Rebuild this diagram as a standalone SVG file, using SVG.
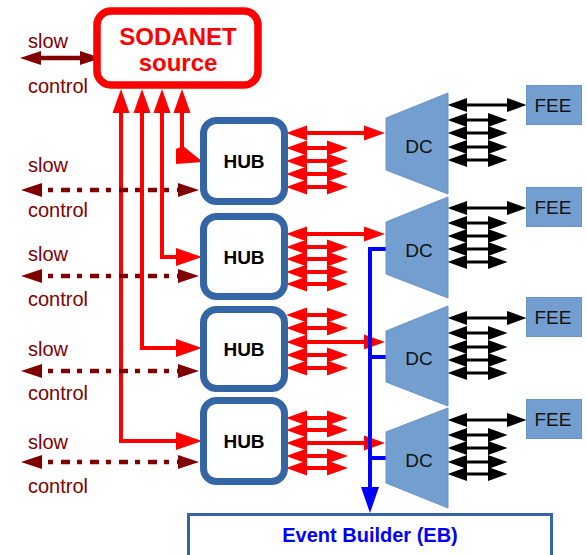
<svg xmlns="http://www.w3.org/2000/svg" width="586" height="555" viewBox="0 0 586 555">
<style>
text{font-family:"Liberation Sans",Arial,sans-serif;text-anchor:middle}
.lbl{fill:#800000;font-size:20px;text-anchor:start}
.hub rect{fill:#fff;stroke:#3465a4;stroke-width:7}
.hub text{font-size:19px;font-weight:bold;fill:#000}
.dc polygon,.fee rect{fill:#729fcf;stroke:#6a93c6;stroke-width:1}
.dc text,.fee text{font-size:19px;fill:#111}
.red{stroke:#ff0000;stroke-width:4;fill:none}
.blk{stroke:#000;stroke-width:3;fill:none}
.dred{stroke:#800000;stroke-width:4.5;fill:none}
.dash{stroke-dasharray:5 8 9 7;stroke-dashoffset:23}
.blue{stroke:#0000ff;stroke-width:4;fill:none}
.rr{marker-start:url(#rh);marker-end:url(#rh)}
.bb{marker-start:url(#bh);marker-end:url(#bh)}
.dd{marker-start:url(#dh);marker-end:url(#dh)}
.up{marker-start:url(#uh);marker-end:url(#ih)}
</style>
<defs>
<marker id="rh" markerUnits="userSpaceOnUse" markerWidth="22" markerHeight="16" refX="0" refY="8" orient="auto-start-reverse" overflow="visible"><path d="M0,0.5 L21,8 L0,15.5 z" fill="#ff0000"/></marker>
<marker id="bh" markerUnits="userSpaceOnUse" markerWidth="20" markerHeight="14" refX="0" refY="7" orient="auto-start-reverse" overflow="visible"><path d="M0,0 L19.5,7 L0,14 z" fill="#000"/></marker>
<marker id="dh" markerUnits="userSpaceOnUse" markerWidth="22" markerHeight="14" refX="0" refY="7" orient="auto-start-reverse" overflow="visible"><path d="M0,0 L21,7 L0,14 z" fill="#800000"/></marker>
<marker id="uh" markerUnits="userSpaceOnUse" markerWidth="24" markerHeight="17" refX="0" refY="8.5" orient="auto-start-reverse" overflow="visible"><path d="M0,0 L24,8.5 L0,17 z" fill="#ff0000"/></marker>
<marker id="ih" markerUnits="userSpaceOnUse" markerWidth="26" markerHeight="18" refX="0" refY="9" orient="auto" overflow="visible"><path d="M0,0 L26,9 L0,18 z" fill="#ff0000"/></marker>
<marker id="blh" markerUnits="userSpaceOnUse" markerWidth="26" markerHeight="18" refX="0" refY="9" orient="auto" overflow="visible"><path d="M0,0 L26,9 L0,18 z" fill="#0000ff"/></marker>
</defs>
<rect width="586" height="555" fill="#fff"/>

<g id="connectors">
  <!-- SODANET to HUBs -->
  <path class="red up" d="M121,113 V441 H176"/>
  <path class="red up" d="M142,113 V348 H176"/>
  <path class="red up" d="M162,113 V257 H176"/>
  <path class="red" d="M182,113 V150" style="marker-start:url(#uh)"/>
  <polygon points="176,149 183,146 203,162 176,164" fill="#ff0000"/>
  <!-- slow control -->
  <line class="dred dd" x1="41" y1="58" x2="80" y2="58"/>
  <line class="dred dd dash" x1="42" y1="190" x2="178" y2="190"/>
  <line class="dred dd dash" x1="42" y1="276" x2="178" y2="276"/>
  <line class="dred dd dash" x1="42" y1="371" x2="178" y2="371"/>
  <line class="dred dd dash" x1="42" y1="462" x2="178" y2="462"/>
  <!-- HUB to DC -->
  <g class="red rr">
    <line x1="307" y1="133" x2="364" y2="133"/>
    <line x1="307" y1="148" x2="327" y2="148"/>
    <line x1="307" y1="161" x2="327" y2="161"/>
    <line x1="307" y1="174" x2="327" y2="174"/>
    <line x1="307" y1="187" x2="327" y2="187"/>
    <line x1="307" y1="234" x2="364" y2="234"/>
    <line x1="307" y1="247" x2="327" y2="247"/>
    <line x1="307" y1="259" x2="327" y2="259"/>
    <line x1="307" y1="272" x2="327" y2="272"/>
    <line x1="307" y1="284" x2="327" y2="284"/>
    <line x1="307" y1="315" x2="327" y2="315"/>
    <line x1="307" y1="328" x2="327" y2="328"/>
    <line x1="307" y1="342" x2="364" y2="342"/>
    <line x1="307" y1="355" x2="327" y2="355"/>
    <line x1="307" y1="368" x2="327" y2="368"/>
    <line x1="307" y1="418" x2="327" y2="418"/>
    <line x1="307" y1="430" x2="327" y2="430"/>
    <line x1="307" y1="443" x2="364" y2="443"/>
    <line x1="307" y1="456" x2="327" y2="456"/>
    <line x1="307" y1="468" x2="327" y2="468"/>
  </g>
  <!-- DC to FEE -->
  <g class="blk bb">
    <line x1="467" y1="105" x2="507" y2="105"/>
    <line x1="467" y1="120" x2="488" y2="120"/>
    <line x1="467" y1="133" x2="488" y2="133"/>
    <line x1="467" y1="147" x2="488" y2="147"/>
    <line x1="467" y1="160" x2="488" y2="160"/>
    <line x1="467" y1="208" x2="507" y2="208"/>
    <line x1="467" y1="223" x2="488" y2="223"/>
    <line x1="467" y1="236" x2="488" y2="236"/>
    <line x1="467" y1="249" x2="488" y2="249"/>
    <line x1="467" y1="262" x2="488" y2="262"/>
    <line x1="467" y1="318" x2="507" y2="318"/>
    <line x1="467" y1="333" x2="488" y2="333"/>
    <line x1="467" y1="347" x2="488" y2="347"/>
    <line x1="467" y1="360" x2="488" y2="360"/>
    <line x1="467" y1="373" x2="488" y2="373"/>
    <line x1="467" y1="420" x2="507" y2="420"/>
    <line x1="467" y1="435" x2="488" y2="435"/>
    <line x1="467" y1="448" x2="488" y2="448"/>
    <line x1="467" y1="462" x2="488" y2="462"/>
    <line x1="467" y1="474" x2="488" y2="474"/>
  </g>
  <!-- DC to EB -->
  <path class="blue" d="M386,249 H370 V487" style="marker-end:url(#blh)"/>
  <line class="blue" x1="370" y1="357" x2="386" y2="357"/>
  <line class="blue" x1="370" y1="458" x2="386" y2="458"/>
</g>

<g id="sodanet">
  <rect x="97" y="11" width="161" height="74" rx="14" fill="#fff" stroke="#ff0000" stroke-width="7.5"/>
  <text x="178" y="45" font-size="24" font-weight="bold" fill="#ff0000">SODANET</text>
  <text x="178" y="71" font-size="24" font-weight="bold" fill="#ff0000">source</text>
</g>

<g id="labels">
  <text class="lbl" x="28" y="48">slow</text>
  <text class="lbl" x="28" y="93">control</text>
  <text class="lbl" x="28" y="172">slow</text>
  <text class="lbl" x="28" y="217">control</text>
  <text class="lbl" x="28" y="261">slow</text>
  <text class="lbl" x="28" y="306">control</text>
  <text class="lbl" x="28" y="356">slow</text>
  <text class="lbl" x="28" y="400">control</text>
  <text class="lbl" x="28" y="449">slow</text>
  <text class="lbl" x="28" y="493">control</text>
</g>

<g id="hub1" class="hub"><rect x="203.5" y="120.5" width="81" height="81" rx="13"/><text x="244" y="168">HUB</text></g>
<g id="hub2" class="hub"><rect x="203.5" y="216.5" width="81" height="80" rx="13"/><text x="244" y="264">HUB</text></g>
<g id="hub3" class="hub"><rect x="203.5" y="309.5" width="81" height="79" rx="13"/><text x="244" y="356">HUB</text></g>
<g id="hub4" class="hub"><rect x="203.5" y="400.5" width="81" height="81" rx="13"/><text x="244" y="448">HUB</text></g>

<g id="dc1" class="dc"><polygon points="386,118 448,93 448,194 386,170"/><text x="419" y="153">DC</text></g>
<g id="dc2" class="dc"><polygon points="386,222 448,197 448,298 386,274"/><text x="419" y="257">DC</text></g>
<g id="dc3" class="dc"><polygon points="386,331 448,306 448,406 386,382"/><text x="419" y="365">DC</text></g>
<g id="dc4" class="dc"><polygon points="386,432 448,408 448,508 386,483"/><text x="419" y="467">DC</text></g>

<g id="fee1" class="fee"><rect x="526.5" y="85.5" width="55" height="39"/><text x="553" y="112">FEE</text></g>
<g id="fee2" class="fee"><rect x="526.5" y="187.5" width="55" height="39"/><text x="553" y="214">FEE</text></g>
<g id="fee3" class="fee"><rect x="526.5" y="297.5" width="55" height="39"/><text x="553" y="324">FEE</text></g>
<g id="fee4" class="fee"><rect x="526.5" y="399.5" width="55" height="39"/><text x="553" y="426">FEE</text></g>

<g id="eb">
  <rect x="188.5" y="514.5" width="363" height="50" fill="#fff" stroke="#3465a4" stroke-width="3"/>
  <text x="370" y="542" font-size="20" font-weight="bold" fill="#0000ff">Event Builder (EB)</text>
</g>
</svg>
